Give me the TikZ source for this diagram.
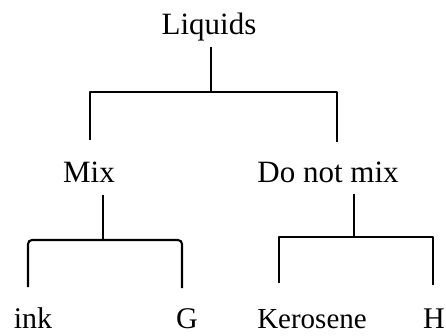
\documentclass[tikz,border=0pt]{standalone}
\usepackage{fontspec}
\setmainfont{Liberation Serif}
\tikzset{>=stealth}
\tikzset{
  word/.style={anchor=base, inner sep=0pt, font=\fontsize{30}{36}\selectfont},
  branch/.style={line width=1.9pt, line join=round},
}

\begin{document}
\begin{tikzpicture}[x=1pt, y=-1pt]
    \useasboundingbox (0,0) rectangle (446,336);
    % labels
    \node[word, font=\fontsize{31}{37}\selectfont] (liq) at (209,35) {Liquids};
    \node[word, font=\fontsize{31}{37}\selectfont] (mix) at (89,183) {Mix};
    \node[word, font=\fontsize{31}{37}\selectfont] (nomix) at (328,183) {Do not mix};
    \node[word] (ink) at (33,328) {ink};
    \node[word] (g) at (187,328) {G};
    \node[word, font=\fontsize{29}{35}\selectfont] (ker) at (312,328) {Kerosene};
    \node[word] (h) at (434,328) {H};
    % joints and free ends
    \coordinate (j1) at (211,92);
    \coordinate (a1) at (90,140);
    \coordinate (a2) at (337,142);
    \coordinate (j2) at (103,240);
    \coordinate (b1) at (28,287);
    \coordinate (b2) at (182,288);
    \coordinate (j3) at (354,237);
    \coordinate (c1) at (279,283);
    \coordinate (c2) at (433,285);
    % first split
    \draw[branch, shorten <=5pt] (liq.south -| j1) -- (j1);
    \draw[branch] (a1) |- (j1) -| (a2);
    % mix
    \draw[branch, line width=2.1pt, shorten <=12pt] (mix.south -| j2) -- (j2);
    \draw[branch, line width=2.1pt, rounded corners=4pt] (b1) |- (j2) -| (b2);
    % do not mix
    \draw[branch, line width=1.3pt, shorten <=10pt] (nomix.south -| j3) -- (j3);
    \draw[branch, line width=1.3pt] (c1) |- (j3) -| (c2);
\end{tikzpicture}
\end{document}
